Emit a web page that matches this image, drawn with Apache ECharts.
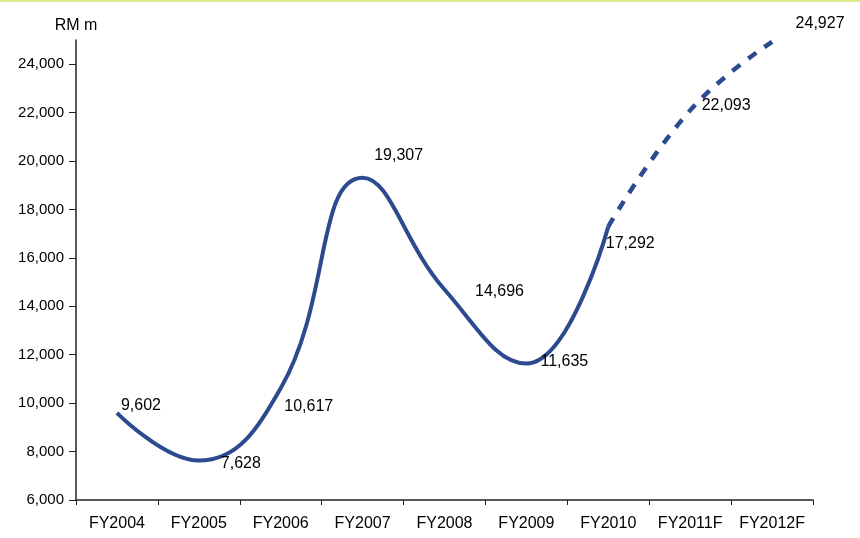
<!DOCTYPE html>
<html>
<head>
<meta charset="utf-8">
<script src="https://cdn.jsdelivr.net/npm/echarts@6/dist/echarts.min.js"></script>
<style>
  html,body{margin:0;padding:0;background:#fff;}
  #chart{width:860px;height:538px;}
</style>
</head>
<body>
<div id="chart"></div>
<script>
// data
let categories = ['FY2004','FY2005','FY2006','FY2007','FY2008','FY2009','FY2010','FY2011F','FY2012F'];
let actualValues = [9602,7628,10617,19307,14696,11635,17292,null,null];
let forecastValues = [null,null,null,null,null,null,17292,22093,24927];
let yTicks = [6000,8000,10000,12000,14000,16000,18000,20000,22000,24000];

// label offsets per point [dx, dy], by index
let labelOffsets = [[24,-7],[42,3],[28,18],[36,-22],[55,2],[38,-2],[22,17],[36,-5],[48,-18]];

let lineColor = '#2c4a8e';
let fontColor = '#000';
let fontFamily = 'Liberation Sans';
let fmt = v => v.toLocaleString('en-US');

function makeLabels(values, skip){
    return values.map((v,i)=>{
        if(v===null) return null;
        if(skip && skip.indexOf(i) >= 0) return {value:v, label:{show:false}};
        return {
            value:v,
            label:{show:true, offset:labelOffsets[i]}
        };
    });
}

let chart = echarts.init(document.getElementById('chart'));
chart.setOption({
    animation:false,
    grid:{left:76, right:47, top:40, bottom:38},
    graphic:[{
        type:'line',
        shape:{x1:0,y1:1,x2:860,y2:1},
        style:{stroke:'#dfe68a',lineWidth:2}
    }],
    xAxis:{
        type:'category',
        data:categories,
        boundaryGap:true,
        axisLine:{lineStyle:{color:'#222',width:1.5}},
        axisTick:{show:true,length:5,interval:0,lineStyle:{color:'#222'}},
        axisLabel:{
            interval:0,
            color:fontColor,
            fontSize:16,
            fontFamily:fontFamily,
            margin:16
        },
        splitLine:{show:false}
    },
    yAxis:{
        type:'value',
        min:6000,
        max:25000,
        interval:2000,
        name:'RM m',
        nameLocation:'end',
        nameGap:6,
        nameTextStyle:{color:fontColor,fontSize:16,fontFamily:fontFamily,align:'center'},
        axisLine:{show:true,lineStyle:{color:'#222',width:1.5}},
        axisTick:{show:true,length:7,inside:false,lineStyle:{color:'#222'},customValues:yTicks},
        axisLabel:{
            color:fontColor,
            fontSize:15,
            fontFamily:fontFamily,
            margin:12,
            customValues:yTicks,
            formatter:v=>fmt(v)
        },
        splitLine:{show:false}
    },
    series:[{
        name:'actual',
        type:'line',
        smooth:0.45,
        symbol:'circle',
        symbolSize:0,
        showSymbol:true,
        lineStyle:{color:lineColor,width:4},
        itemStyle:{color:lineColor},
        label:{
            show:true,
            position:'inside',
            color:fontColor,
            fontSize:16,
            fontFamily:fontFamily,
            formatter:p=>fmt(p.value)
        },
        data:makeLabels(actualValues)
    },{
        name:'forecast',
        type:'line',
        smooth:0.45,
        symbol:'circle',
        symbolSize:0,
        showSymbol:true,
        clip:false,
        lineStyle:{color:lineColor,width:4.5,type:[10,10]},
        itemStyle:{color:lineColor},
        label:{
            show:true,
            position:'inside',
            color:fontColor,
            fontSize:16,
            fontFamily:fontFamily,
            formatter:p=>fmt(p.value)
        },
        data:makeLabels(forecastValues,[6])
    }]
});
</script>
</body>
</html>
